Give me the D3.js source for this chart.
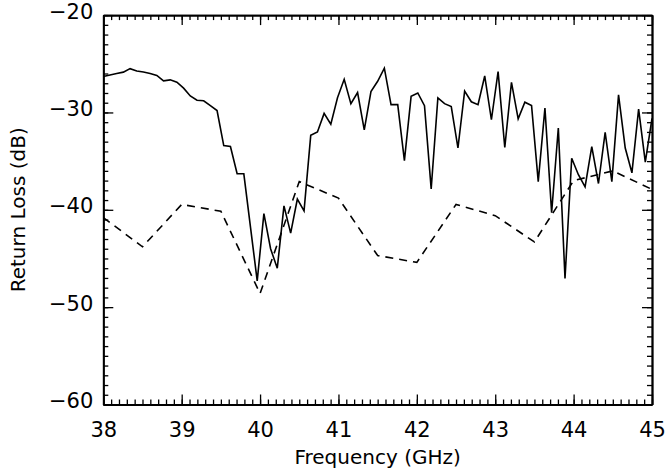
<!DOCTYPE html>
<html>
<head>
<meta charset="utf-8">
<script src="https://cdn.jsdelivr.net/npm/d3@7"></script>
<style>
  body { margin: 0; background: #fff; }
  svg text { font-family: "DejaVu Sans", sans-serif; fill: #000; }
</style>
</head>
<body>
<svg width="665" height="469"></svg>
<script>
// solid curve: 83 samples, 38 -> 45 GHz
var solidLoss = [
  -26.3, -26.15, -26.0, -25.86, -25.5, -25.75, -25.85, -26.0, -26.2, -26.75,
  -26.65, -26.9, -27.5, -28.3, -28.75, -28.8, -29.3, -29.8, -33.4, -33.5,
  -36.3, -36.3, -41.8, -47.3, -40.4, -44.0, -46.0, -39.6, -42.4, -38.9,
  -40.1, -32.35, -32.0, -30.1, -31.2, -28.5, -26.6, -29.1, -27.95, -31.8,
  -27.85, -26.8, -25.45, -29.2, -29.2, -34.95, -28.35, -28.0, -29.3, -37.85,
  -28.5, -29.1, -29.4, -33.65, -27.8, -28.9, -29.2, -26.25, -30.75, -25.8,
  -33.6, -26.9, -30.65, -28.95, -29.3, -37.1, -29.55, -40.3, -31.6, -47.05,
  -34.7, -36.4, -37.65, -33.5, -37.3, -32.05, -37.1, -28.2, -33.65, -36.2,
  -29.65, -35.1, -30.6
]
var solidFreq = solidLoss.map((v, i) => 38 + i * 7 / 82)

// dashed curve
var dashFreq = [38, 38.5, 39, 39.5, 40, 40.5, 41, 41.5, 42, 42.5, 43, 43.5, 44, 44.5, 45]
var dashLoss = [-40.8, -43.8, -39.45, -40.15, -48.6, -37.1, -38.8, -44.7, -45.4, -39.45, -40.6, -43.3, -37.0, -36.0, -37.9]

var xTicks = [38, 39, 40, 41, 42, 43, 44, 45]
var yTicks = [-60, -50, -40, -30, -20]

var svg = d3.select('svg')
var pLeft = 103.3, pTop = 15.1, pRight = 652, pBottom = 404.5

var x = d3.scaleLinear().domain([38, 45]).range([pLeft, pRight])
var y = d3.scaleLinear().domain([-60, -20]).range([pBottom, pTop])

var fmt = d => String(d).replace('-', '\u2212')
var xMinor = d3.range(380, 451).map(d => d / 10)
var yMinor = d3.range(-60, -19)

function styleAxis(g) {
  g.select('.domain').attr('stroke-width', 1.8)
  g.selectAll('.tick line').attr('stroke-width', 1.3)
  g.selectAll('text').style('font-size', '21px').attr('fill', '#000')
}

// minor ticks
svg.append('g').attr('transform', `translate(0,${pBottom})`)
   .call(d3.axisBottom(x).tickValues(xMinor).tickSize(-5).tickSizeOuter(0).tickFormat(''))
   .call(styleAxis)
svg.append('g').attr('transform', `translate(0,${pTop})`)
   .call(d3.axisTop(x).tickValues(xMinor).tickSize(-5).tickSizeOuter(0).tickFormat(''))
   .call(styleAxis)
svg.append('g').attr('transform', `translate(${pLeft},0)`)
   .call(d3.axisLeft(y).tickValues(yMinor).tickSize(-5).tickSizeOuter(0).tickFormat(''))
   .call(styleAxis)
svg.append('g').attr('transform', `translate(${pRight},0)`)
   .call(d3.axisRight(y).tickValues(yMinor).tickSize(-5).tickSizeOuter(0).tickFormat(''))
   .call(styleAxis)

// major ticks + labels
svg.append('g').attr('transform', `translate(0,${pBottom})`)
   .call(d3.axisBottom(x).tickValues(xTicks).tickSize(-10).tickSizeOuter(0).tickPadding(18).tickFormat(fmt))
   .call(styleAxis)
svg.append('g').attr('transform', `translate(0,${pTop})`)
   .call(d3.axisTop(x).tickValues(xTicks).tickSize(-10).tickSizeOuter(0).tickFormat(''))
   .call(styleAxis)
svg.append('g').attr('transform', `translate(${pLeft},0)`)
   .call(d3.axisLeft(y).tickValues(yTicks).tickSize(-10).tickSizeOuter(0).tickPadding(10).tickFormat(fmt))
   .call(styleAxis)
   .selectAll('text').attr('dy', '0.14em')
svg.append('g').attr('transform', `translate(${pRight},0)`)
   .call(d3.axisRight(y).tickValues(yTicks).tickSize(-10).tickSizeOuter(0).tickFormat(''))
   .call(styleAxis)

var line = d3.line().x(d => x(d[0])).y(d => y(d[1]))

svg.append('path')
   .datum(dashFreq.map((f, i) => [f, dashLoss[i]]))
   .attr('d', line)
   .attr('fill', 'none')
   .attr('stroke', '#000')
   .attr('stroke-width', 1.6)
   .attr('stroke-dasharray', '8,6')

svg.append('path')
   .datum(solidFreq.map((f, i) => [f, solidLoss[i]]))
   .attr('d', line)
   .attr('fill', 'none')
   .attr('stroke', '#000')
   .attr('stroke-width', 1.6)
   .attr('stroke-linejoin', 'miter')

// axis titles
svg.append('text')
   .attr('x', (pLeft + pRight) / 2)
   .attr('y', 464)
   .attr('text-anchor', 'middle')
   .style('font-size', '20px')
   .text('Frequency (GHz)')

svg.append('text')
   .attr('transform', `translate(25,${(pTop + pBottom) / 2}) rotate(-90)`)
   .attr('text-anchor', 'middle')
   .style('font-size', '20px')
   .text('Return Loss (dB)')
</script>
</body>
</html>
